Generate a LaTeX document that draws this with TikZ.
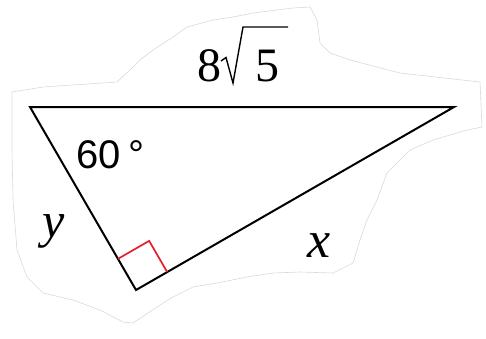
\documentclass[tikz,border=0pt]{standalone}
\usepackage{fontspec}
\setmainfont{Liberation Serif}
\newfontfamily\arialfont{Liberation Sans}
\usetikzlibrary{calc}
\definecolor{markred}{RGB}{228,30,45}
\tikzset{
  side/.style={line width=2pt,line join=miter},
  rightmark/.style={draw=markred,line width=1.7pt},
  outline/.style={draw=gray!30,line width=0.6pt},
  radical/.style={line width=1.4pt,line join=miter},
}
\begin{document}
\begin{tikzpicture}[x=1pt,y=-1pt]
\useasboundingbox (0,0) rectangle (486,338);

% Torn paper outline
\draw[outline] (12,92) -- (43,87) -- (117,82) -- (133,67) -- (140,60) -- (153,50)
  -- (173,37) -- (187,27) -- (213,20) -- (233,17) -- (253,13) -- (293,8) -- (310,7)
  -- (317,20) -- (320,43) -- (330,53) -- (350,60) -- (400,73) -- (480,82) -- (482,127)
  -- (467,130) -- (433,140) -- (410,150) -- (387,173) -- (377,200) -- (367,220)
  -- (360,240) -- (353,263) -- (333,273) -- (300,272) -- (273,273) -- (247,277)
  -- (217,283) -- (193,287) -- (173,297) -- (157,307) -- (133,323) -- (123,322)
  -- (100,310) -- (73,300) -- (43,293) -- (27,277) -- (17,250) -- (13,200)
  -- (12,150) -- cycle;

% Triangle
\coordinate (A) at (30,107);
\coordinate (B) at (454,107);
\coordinate (C) at (136,290);
\draw[side] (A) -- (B) -- (C) -- cycle;

% Right angle mark
\coordinate (P) at ($(C)!36pt!(A)$);
\coordinate (Q) at ($(C)!36pt!(B)$);
\coordinate (R) at ($(P)+(Q)-(C)$);
\draw[rightmark] (P) -- (R) -- (Q);

% Hypotenuse length 8 sqrt 5
\node[anchor=base] (eight) at (209.5,81) {\fontsize{48}{48}\selectfont 8};
\node[anchor=base] (five) at (267.5,81) {\fontsize{48}{48}\selectfont 5};
\draw[radical] (221,61) -- (226,57.5) -- (233,83) -- (243,27) -- (288,27);

% Angle and legs
\node[anchor=base west,inner sep=0pt] (ang) at (76.3,168)
  {\arialfont\fontsize{40}{40}\selectfont 60\kern8pt°};
\node[anchor=base] (ylab) at (54,237) {\fontsize{50}{50}\selectfont\itshape y};
\node[anchor=base] (xlab) at (319,257) {\fontsize{52}{52}\selectfont\itshape x};

\end{tikzpicture}
\end{document}
